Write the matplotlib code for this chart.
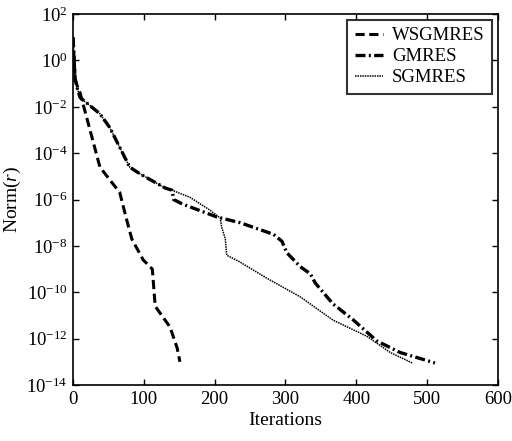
import numpy as np
import matplotlib
matplotlib.use('Agg')
import matplotlib.pyplot as plt
from matplotlib.ticker import LogLocator, LogFormatterMathtext, NullLocator

plt.rcParams['font.family'] = ['Liberation Serif', 'DejaVu Serif']
plt.rcParams['mathtext.fontset'] = 'custom'
plt.rcParams['mathtext.rm'] = 'Liberation Serif'
plt.rcParams['mathtext.it'] = 'Liberation Serif:italic'
plt.rcParams['axes.unicode_minus'] = False

# ---- data (log10 of residual norm) ----
ws_iter = [0, 3, 7, 10, 38, 66, 76, 83, 99, 112, 116, 123, 137, 147, 151]
ws_log = [1.0, -0.8, -1.2, -1.4, -4.6, -5.7, -6.9, -7.7, -8.6, -9.0, -10.6, -10.9, -11.5, -12.4, -13.0]

gm_iter = [0, 3, 6, 10, 38, 52, 80, 95, 130, 140, 142, 155, 203, 236, 283, 295, 302,
           321, 335, 342, 367, 396, 429, 462, 511]
gm_log = [1.0, -0.8, -1.2, -1.6, -2.3, -2.9, -4.6, -4.9, -5.5, -5.6, -6.0, -6.2, -6.75, -7.0,
          -7.5, -7.8, -8.3, -8.9, -9.2, -9.6, -10.5, -11.2, -12.1, -12.6, -13.05]

sg_iter = [0, 3, 6, 10, 38, 52, 80, 95, 130, 140, 165, 193, 208, 210, 215, 217, 236, 274,
           321, 367, 415, 448, 479]
sg_log = [1.0, -0.8, -1.2, -1.6, -2.3, -2.9, -4.6, -4.9, -5.5, -5.6, -5.9, -6.45, -6.8, -7.2,
          -7.7, -8.4, -8.7, -9.4, -10.2, -11.2, -11.9, -12.6, -13.05]

fig = plt.figure(figsize=(5.12, 4.41), dpi=100)
ax = fig.add_axes([0.1426, 0.127, 0.83, 0.841])

ax.semilogy(ws_iter, 10.0 ** np.array(ws_log), color='black', lw=2.2,
            linestyle=(0, (3, 1.5)), label='WSGMRES')
ax.semilogy(gm_iter, 10.0 ** np.array(gm_log), color='black', lw=2.4,
            linestyle=(0, (3, 1, 0.6, 1)), label='GMRES')
ax.semilogy(sg_iter, 10.0 ** np.array(sg_log), color='black', lw=1.1,
            linestyle=(0, (1, 0.6)), label='SGMRES')

ax.set_xlim(0, 600)
ax.set_ylim(1e-14, 1e2)
ax.set_xticks([0, 100, 200, 300, 400, 500, 600])
ax.yaxis.set_major_locator(LogLocator(base=100.0))
ax.yaxis.set_major_formatter(LogFormatterMathtext(base=10.0))
ax.yaxis.set_minor_locator(NullLocator())
ax.tick_params(direction='in', top=True, right=True, labelsize=13.5, length=4, width=1, pad=4)
for s in ax.spines.values():
    s.set_linewidth(1.2)

ax.set_xlabel('Iterations', fontsize=14, labelpad=3)
ax.set_ylabel(r'Norm($\mathit{r}$)', fontsize=14, labelpad=2)

leg = ax.legend(loc='upper right', fontsize=13.5, frameon=True, fancybox=False,
                edgecolor='black', handlelength=1.5, handletextpad=0.5,
                labelspacing=0.2, borderpad=0.4, borderaxespad=0.3)
leg.get_frame().set_linewidth(1.5)

fig.savefig('out.png', dpi=100)
